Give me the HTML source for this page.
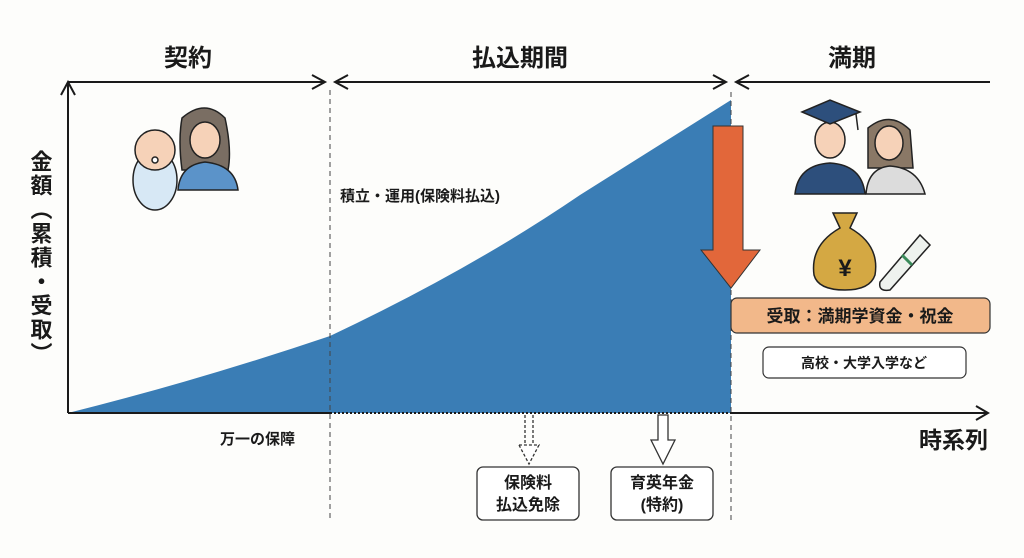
<!DOCTYPE html>
<html><head><meta charset="utf-8"><style>
html,body{margin:0;padding:0;background:#fdfdfb;}
svg{display:block;font-family:"Liberation Sans","Noto Sans CJK JP",sans-serif;}
</style></head><body>
<svg width="1024" height="558" viewBox="0 0 1024 558" xmlns="http://www.w3.org/2000/svg">
<rect width="1024" height="558" fill="#fdfdfb"/>
<g font-weight="bold" font-size="24" fill="#1a1a1a" text-anchor="middle">
<text x="188" y="66">契約</text>
<text x="520" y="66">払込期間</text>
<text x="852" y="66">満期</text>
</g>
<g stroke="#1a1a1a" stroke-width="2" fill="none">
<line x1="68" y1="82" x2="325" y2="82"/><polyline points="312,75 325,82 312,89"/>
<line x1="335" y1="82" x2="726" y2="82"/><polyline points="348,75 335,82 348,89"/><polyline points="713,75 726,82 713,89"/>
<line x1="736" y1="82" x2="990" y2="82"/><polyline points="749,75 736,82 749,89"/>
</g>
<path d="M68,413 Q200,380 330,336 Q470,270 580,195 L731,100 L731,413 Z" fill="#3a7db5"/>
<g stroke="#444" stroke-width="1" stroke-dasharray="5,4">
<line x1="330" y1="90" x2="330" y2="522"/>
<line x1="731" y1="92" x2="731" y2="522"/>
</g>
<line x1="330" y1="413" x2="731" y2="413" stroke="#1a1a1a" stroke-width="2" stroke-dasharray="2,2"/>
<g stroke="#1a1a1a" stroke-width="2" fill="none">
<line x1="68" y1="413" x2="68" y2="82"/><polyline points="61,95 68,82 75,95"/>
<line x1="68" y1="413" x2="330" y2="413"/>
<line x1="731" y1="413" x2="988" y2="413"/><polyline points="976,406 988,413 976,420"/>
</g>
<text x="40" y="150" font-size="22" font-weight="bold" fill="#1a1a1a" style="writing-mode:vertical-rl" letter-spacing="2">金額（累積・受取）</text>
<text x="340" y="201" font-size="15" font-weight="bold" fill="#1a1a1a">積立・運用(保険料払込)</text>
<text x="220" y="444" font-size="15" font-weight="bold" fill="#1a1a1a">万一の保障</text>
<text x="988" y="448" font-size="23" font-weight="bold" fill="#1a1a1a" text-anchor="end">時系列</text>
<path d="M713,126 L743,126 L743,250 L760,250 L731,288 L701,250 L713,250 Z" fill="#e2673a" stroke="#333" stroke-width="1"/>
<rect x="731" y="298" width="259" height="35" rx="6" fill="#f2b88a" stroke="#333" stroke-width="1.2"/>
<text x="860" y="322" font-size="17" font-weight="bold" fill="#1a1a1a" text-anchor="middle">受取：満期学資金・祝金</text>
<rect x="763" y="347" width="203" height="31" rx="6" fill="#fff" stroke="#333" stroke-width="1.2"/>
<text x="864" y="368" font-size="14" font-weight="bold" fill="#1a1a1a" text-anchor="middle">高校・大学入学など</text>
<g stroke="#333" stroke-width="1.3" fill="#fff">
<g stroke-dasharray="3,2"><line x1="525" y1="415" x2="525" y2="445"/><line x1="533" y1="415" x2="533" y2="445"/><polyline points="519,445 529,464 539,445 519,445"/></g>
<path d="M658,415 L668,415 L668,440 L675,440 L663,464 L651,440 L658,440 Z"/>
</g>
<rect x="477" y="467" width="102" height="53" rx="6" fill="#fff" stroke="#333" stroke-width="1.3"/>
<text x="528" y="488" font-size="16" font-weight="bold" fill="#1a1a1a" text-anchor="middle">保険料</text>
<text x="528" y="510" font-size="16" font-weight="bold" fill="#1a1a1a" text-anchor="middle">払込免除</text>
<rect x="611" y="467" width="102" height="53" rx="6" fill="#fff" stroke="#333" stroke-width="1.3"/>
<text x="662" y="488" font-size="16" font-weight="bold" fill="#1a1a1a" text-anchor="middle">育英年金</text>
<text x="662" y="510" font-size="16" font-weight="bold" fill="#1a1a1a" text-anchor="middle">(特約)</text>
<g stroke="#222" stroke-width="1.5">
<path d="M182,118 Q205,98 225,118 Q232,150 228,170 L182,170 Q178,140 182,118Z" fill="#7a6e63"/>
<path d="M178,190 Q180,165 205,162 Q235,165 238,190 Z" fill="#5b93c9"/>
<ellipse cx="205" cy="140" rx="15" ry="18" fill="#f6d2b8"/>
<ellipse cx="155" cy="180" rx="22" ry="30" fill="#d7e8f5"/>
<circle cx="155" cy="150" r="20" fill="#f6d2b8"/>
<circle cx="155" cy="160" r="3" fill="#fff"/>
</g>
<g stroke="#222" stroke-width="1.5">
<path d="M868,128 Q890,110 910,130 L913,168 L868,168Z" fill="#8a7866"/>
<path d="M866,194 Q868,168 890,166 Q918,168 925,194Z" fill="#dcdcdc"/>
<ellipse cx="889" cy="143" rx="14" ry="17" fill="#f6d2b8"/>
<path d="M795,194 Q798,165 830,163 Q862,165 865,194Z" fill="#2d4f7c"/>
<ellipse cx="830" cy="140" rx="15" ry="18" fill="#f6d2b8"/>
<path d="M802,112 L830,100 L860,112 L830,124Z" fill="#2d4f7c"/>
<line x1="856" y1="114" x2="858" y2="130"/>
</g>
<g stroke="#222" stroke-width="1.5">
<path d="M833,213 L857,213 L850,228 Q880,245 875,275 Q870,290 845,290 Q818,290 814,275 Q810,245 840,228Z" fill="#d4a843"/>
<text x="845" y="276" font-size="24" font-weight="bold" fill="#1a1a1a" stroke="none" text-anchor="middle">¥</text>
<path d="M880,282 L920,235 L930,245 L890,290 Q878,292 880,282Z" fill="#eef2ee"/>
<line x1="902" y1="255" x2="912" y2="265" stroke="#3a8a5a" stroke-width="3"/>
</g>
</svg>
</body></html>
